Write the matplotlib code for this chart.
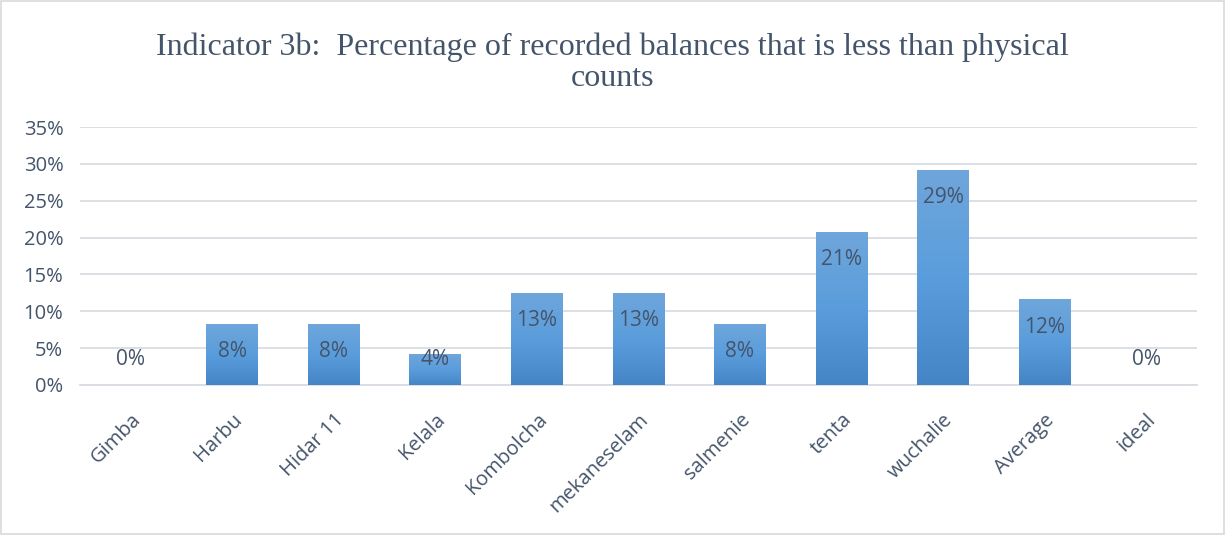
import matplotlib.pyplot as plt
import numpy as np
from matplotlib.patches import Rectangle
from matplotlib.ticker import PercentFormatter
from matplotlib.colors import LinearSegmentedColormap

# Indicator 3b data per site
sites = ['Gimba', 'Harbu', 'Hidar 11', 'Kelala', 'Kombolcha', 'mekaneselam',
         'salmenie', 'tenta', 'wuchalie', 'Average', 'ideal']
pct = [0.0, 8.3, 8.3, 4.2, 12.5, 12.5, 8.3, 20.8, 29.2, 11.6, 0.0]
labels = ['0%', '8%', '8%', '4%', '13%', '13%', '8%', '21%', '29%', '12%', '0%']

text_col = '#44546A'
grid_col = '#D9DDE3'

fig = plt.figure(figsize=(12.25, 5.35), dpi=100)
fig.patches.append(Rectangle((0.001, 0.002), 0.998, 0.996, transform=fig.transFigure,
                             fill=False, edgecolor='#D9D9D9', linewidth=1.2))
ax = fig.add_axes([0.0653, 0.2804, 0.9117, 0.4822])

x = np.arange(len(sites))
vals = np.array(pct) / 100
bars = ax.bar(x, vals, width=0.51, color='#5B9BD5', zorder=2)

# vertical gradient inside each bar
grad = np.linspace(0, 1, 256).reshape(-1, 1)
cmap = LinearSegmentedColormap.from_list('bar', ['#4585C6', '#5A9DDC', '#6FA6DB'])
for b in bars:
    if b.get_height() <= 0:
        continue
    x0, w, h = b.get_x(), b.get_width(), b.get_height()
    im = ax.imshow(grad, extent=[x0, x0 + w, 0, h], origin='lower', cmap=cmap,
                   aspect='auto', zorder=3)
    im.set_clip_path(b)

# value labels sit just inside the top of each bar, never lower than a floor
for xi, v, lab in zip(x, vals, labels):
    ly = max(v - 0.038, 0.034)
    ax.text(xi, ly, lab, ha='center', va='center', fontsize=15, color=text_col,
            family='Open Sans', zorder=4)

ax.set_xlim(-0.5, len(sites) - 0.5)
ax.set_ylim(0, 0.35)
ax.set_yticks(np.arange(0, 0.351, 0.05))
ax.yaxis.set_major_formatter(PercentFormatter(1.0, decimals=0))
ax.grid(axis='y', color=grid_col, linewidth=1.3, zorder=0)
ax.set_axisbelow(True)
for s in ['top', 'right', 'left']:
    ax.spines[s].set_visible(False)
ax.spines['bottom'].set_color(grid_col)
ax.spines['bottom'].set_linewidth(1.3)
ax.tick_params(length=0, colors=text_col, labelsize=14.5)
ax.tick_params(axis='x', pad=18)
ax.tick_params(axis='y', pad=12)
ax.set_xticks(x)
ax.set_xticklabels(sites, rotation=45, ha='right', rotation_mode='anchor', family='Open Sans')
for t in ax.get_yticklabels():
    t.set_family('Open Sans')

fig.text(0.5, 0.94, 'Indicator 3b:  Percentage of recorded balances that is less than physical\ncounts',
         ha='center', va='top', fontsize=23, color=text_col, family='Liberation Serif',
         linespacing=1.1)

fig.savefig('out.png', dpi=100)
